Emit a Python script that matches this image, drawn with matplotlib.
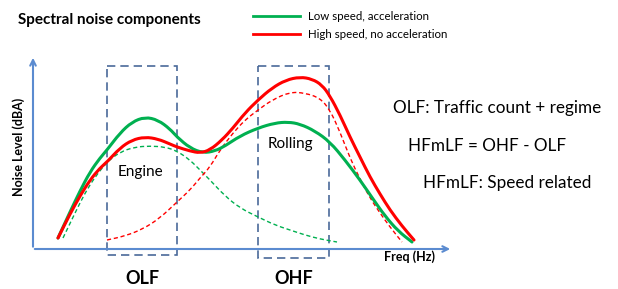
import matplotlib.pyplot as plt
from matplotlib.patches import Rectangle, PathPatch
from matplotlib.path import Path

plt.rcParams['font.family'] = ['Lato', 'DejaVu Sans']

# curves, in pixel units (x right, y down)
green_x = [58, 70, 80, 90, 100, 107, 120, 132, 145, 158, 170, 177, 190, 203, 215,
           225, 240, 258, 275, 288, 300, 315, 330, 345, 360, 373, 385, 398, 412]
green_y = [238, 212, 191, 172, 158, 150, 133, 122, 117, 120, 129, 137, 148, 153, 151,
           146, 136, 128, 123, 122, 124, 131, 142, 160, 180, 199, 216, 231, 242]

red_x = [58, 70, 80, 90, 100, 107, 120, 132, 145, 158, 170, 177, 190, 200, 210,
         222, 233, 245, 258, 272, 286, 300, 312, 322, 330, 340, 350, 360, 370,
         380, 390, 402, 414]
red_y = [238, 214, 196, 180, 168, 162, 148, 140, 137, 139, 144, 147, 151, 153, 150,
         140, 128, 113, 100, 88, 80, 77, 79, 85, 96, 115, 137, 157, 177,
         194, 210, 226, 240]

green_dash_x = [63, 75, 85, 95, 107, 120, 135, 150, 165, 177, 190, 200, 210, 225,
                240, 258, 275, 290, 305, 320, 337]
green_dash_y = [238, 213, 193, 177, 162, 152, 147, 146, 147, 151, 160, 170, 180, 196,
                208, 217, 225, 230, 235, 239, 242]

red_dash_x = [107, 125, 143, 160, 177, 190, 200, 210, 220, 233, 245, 258, 272, 290,
              305, 320, 330, 340, 350, 360, 370, 380, 390, 402]
red_dash_y = [240, 236, 229, 218, 202, 190, 178, 167, 150, 133, 120, 110, 100, 92,
              93, 98, 110, 132, 158, 179, 198, 213, 227, 242]

# frequency bands (x0, x1, y0, y1)
bands = {'OLF': (107, 177, 66, 255), 'OHF': (258, 329, 66, 258)}

series = ['Low speed, acceleration', 'High speed, no acceleration']

GREEN = '#00b050'
RED = '#ff0000'
AXIS = '#5b8bd0'
BOX = '#4a6a9a'


def smooth_curve(ax, xs, ys, **kw):
    # quadratic b-spline through the read points, keeps the ends
    pts = list(zip(xs, ys))
    verts = [pts[0]]
    codes = [Path.MOVETO]
    mids = [((pts[i][0] + pts[i + 1][0]) / 2, (pts[i][1] + pts[i + 1][1]) / 2)
            for i in range(len(pts) - 1)]
    verts.append(mids[0])
    codes.append(Path.LINETO)
    for i in range(1, len(pts) - 1):
        verts += [pts[i], mids[i]]
        codes += [Path.CURVE3, Path.CURVE3]
    verts.append(pts[-1])
    codes.append(Path.LINETO)
    ax.add_patch(PathPatch(Path(verts, codes), fill=False, **kw))


fig = plt.figure(figsize=(6.18, 2.89), dpi=100)
ax = fig.add_axes([0, 0, 1, 1])
ax.set_xlim(0, 618)
ax.set_ylim(289, 0)
ax.axis('off')

# axes arrows
ax.annotate('', xy=(33, 55), xytext=(33, 249.5),
            arrowprops=dict(arrowstyle='->', color=AXIS, lw=1.5))
ax.annotate('', xy=(453, 249), xytext=(32, 249),
            arrowprops=dict(arrowstyle='->', color=AXIS, lw=1.5))

# band boxes
for name, (x0, x1, y0, y1) in bands.items():
    ax.add_patch(Rectangle((x0, y0), x1 - x0, y1 - y0, fill=False, ec=BOX,
                           lw=1.2, ls=(0, (5, 3))))
    ax.text((x0 + x1) / 2, 278, name, ha='center', va='center',
            fontsize=13, fontweight='bold')

smooth_curve(ax, green_dash_x, green_dash_y, ec=GREEN, lw=1, ls=(0, (3, 2)))
smooth_curve(ax, red_dash_x, red_dash_y, ec=RED, lw=1, ls=(0, (3, 2)))
smooth_curve(ax, green_x, green_y, ec=GREEN, lw=2.2, capstyle='round')
smooth_curve(ax, red_x, red_y, ec=RED, lw=2.2, capstyle='round')

# legend drawn by hand
for i, (lab, c) in enumerate(zip(series, [GREEN, RED])):
    y = 16 + i * 18
    ax.plot([253, 300], [y, y], color=c, lw=2)
    ax.text(308, y, lab, va='center', fontsize=8.3)

ax.text(18, 20, 'Spectral noise components', va='center', fontsize=11,
        fontweight='bold')
ax.text(19, 147, 'Noise Level (dBA)', rotation=90, ha='center', va='center',
        fontsize=9, fontweight='bold')
ax.text(409, 257, 'Freq (Hz)', ha='center', va='center', fontsize=9,
        fontweight='bold')
ax.text(140, 172, 'Engine', ha='center', va='center', fontsize=11)
ax.text(290, 144, 'Rolling', ha='center', va='center', fontsize=11)

ax.text(393, 108, 'OLF: Traffic count + regime', va='center', fontsize=12.3)
ax.text(408, 146, 'HFmLF = OHF - OLF', va='center', fontsize=12.3)
ax.text(423, 183, 'HFmLF: Speed related', va='center', fontsize=12.3)

fig.savefig('out.png', dpi=100)
